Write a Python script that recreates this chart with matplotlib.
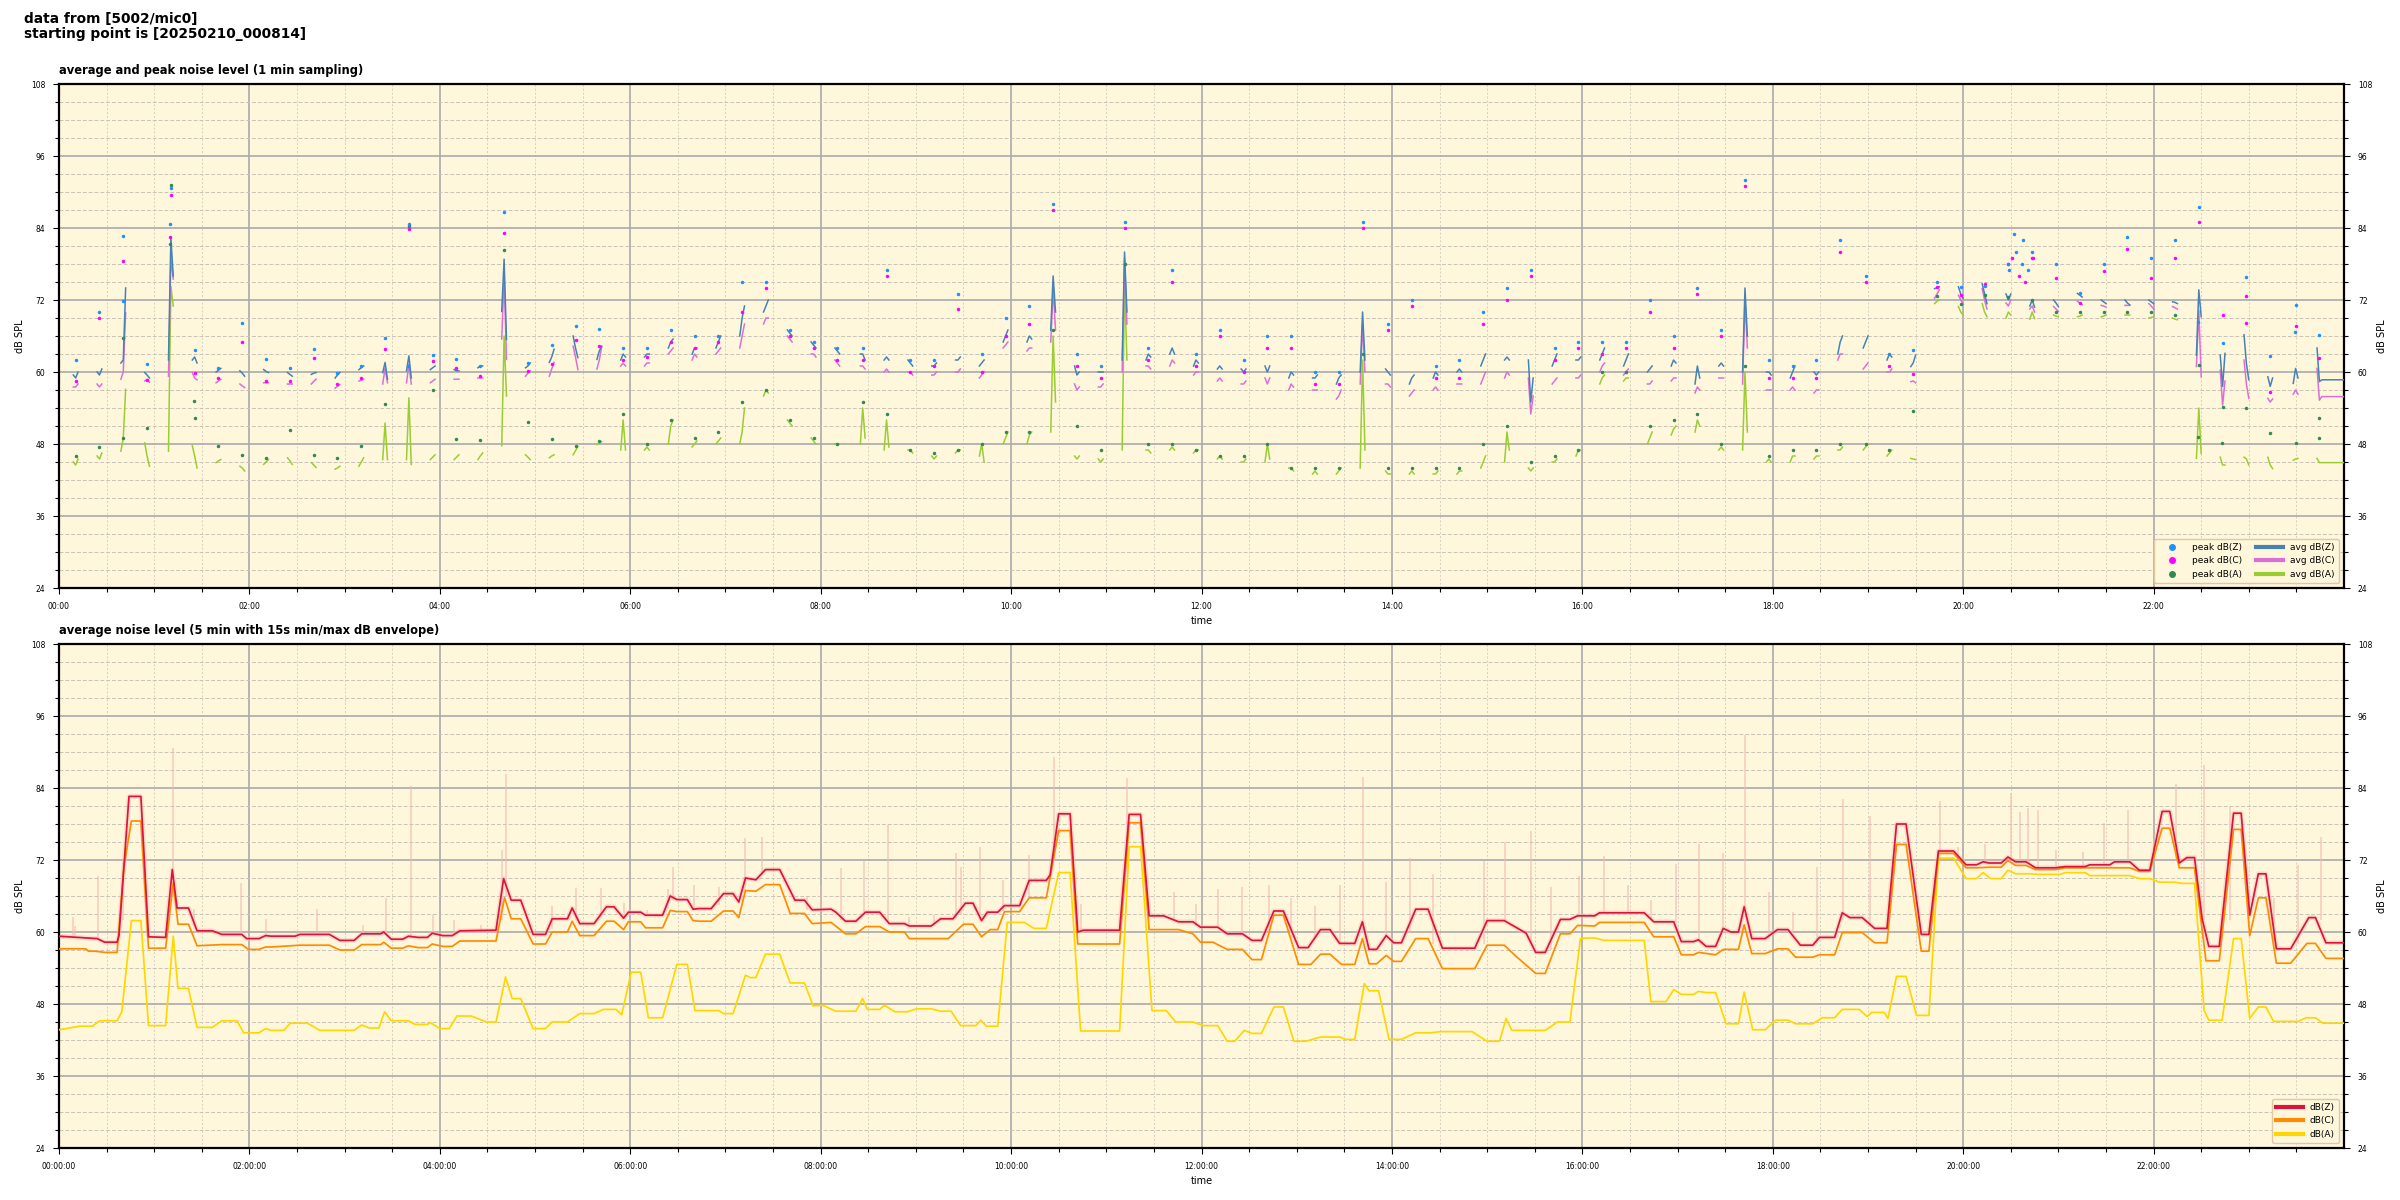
import matplotlib
matplotlib.use("Agg")
import matplotlib.pyplot as plt
import numpy as np
from matplotlib.ticker import MultipleLocator, FuncFormatter
from matplotlib.lines import Line2D

# ================= DATA =================
# --- upper chart: 1-min sampling bursts (start minute of each burst) ---
burst_t = [9, 24, 39, 54, 69, 84, 99, 114, 129, 144, 159, 174, 189, 204, 219, 234, 249, 264, 279, 294,
           309, 324, 339, 354, 369, 384, 399, 414, 429, 444, 459, 474, 489, 505, 520, 535, 550, 565, 580, 595,
           610, 625, 640, 655, 670, 685, 700, 715, 730, 745, 760, 775, 790, 805, 820, 836, 851, 866, 881, 896,
           911, 926, 941, 956, 971, 986, 1001, 1016, 1031, 1046, 1061, 1076, 1091, 1106, 1121, 1137, 1152, 1167, 1182, 1197,
           1212, 1227, 1242, 1257, 1272, 1287, 1302, 1317, 1332, 1347, 1362, 1377, 1392, 1408, 1423]
last_end = 1440  # last burst is held to the end of the day

# avg values (start, middle, end) of every burst
z_avg = [(59.5, 59, 60), (60, 59.5, 60.5), (61.5, 62, 74), (59.9, 59.5, 59), (62, 82.4, 76), (62, 62.5, 61.5),
         (60, 60.3, 60.6), (60.2, 59.8, 59.3), (60.4, 60.1, 59.9), (59.9, 59.6, 59.3), (59.6, 59.8, 59.9),
         (59, 59.5, 59.9), (60.4, 60.7, 61), (59.9, 61.6, 58.8), (60.2, 62.7, 59), (60.4, 60.7, 61),
         (60.4, 60.2, 60.2), (60.7, 61, 61), (70.1, 78.8, 65.4), (60.7, 61, 61.5), (61.6, 62.5, 63.8),
         (66, 64, 62.4), (62.1, 63.5, 64.3), (62, 63, 62.5), (62.5, 63, 63), (64, 65, 65.5), (63, 64, 64),
         (64, 65, 66), (66, 69, 71), (70, 71, 72), (67, 66.5, 66), (65, 64.5, 64), (64, 63.5, 63), (63, 63, 62),
         (62, 62.5, 62), (62, 61.5, 61), (61, 61, 61.5), (62, 62, 62.5), (61, 61.5, 62), (65, 66, 67),
         (65, 66, 65.5), (67, 76, 70), (61, 59.5, 60), (60, 60, 60), (62, 80, 70), (62, 63, 62.5), (63, 64, 63),
         (61, 62, 61.5), (60.5, 61, 60.5), (60.5, 60, 60.5), (61, 60, 61), (59, 60, 59.5), (59, 59, 59.5),
         (58, 59, 59.5), (60, 70, 62), (60.5, 60, 59.5), (58, 59, 59.5), (59, 60, 59.5), (60, 60.5, 60),
         (61, 62, 63), (62, 62.5, 62), (62, 55, 59), (61, 62, 63), (62, 62, 62.5), (62, 63, 64), (61, 62, 63),
         (60, 60.5, 61), (61, 62, 61.5), (58, 61, 59), (61, 61.5, 61), (60, 74, 66), (60, 60, 59.5), (59, 60, 61),
         (60, 59.5, 60), (63, 65, 66), (64, 65, 66), (62, 63, 62.5), (60.9, 61.5, 62.8), (73.9, 74, 74.2),
         (74.2, 73, 72.3), (74.7, 73, 71.4), (73, 72, 73), (71, 72, 70.8), (72, 71.5, 70.9), (73.1, 72.8, 72.5),
         (72, 71.7, 71.4), (72, 71.5, 71.2), (72, 71.7, 71.4), (71.7, 71.6, 71.4), (62.8, 73.7, 69.2),
         (62.8, 57.6, 63.1), (66.2, 61.4, 58.7), (59.2, 57.6, 59), (58.1, 60.6, 59), (64, 58.4, 58.7)]
c_avg = [(57.5, 57.5, 58), (58, 57.5, 58), (58.8, 60, 69.9), (58.5, 58.8, 58.3), (59.3, 78.8, 75.5), (59.9, 59, 58.7),
         (58.2, 58.5, 58.8), (58, 57.7, 57.4), (58.2, 58.2, 58.2), (58, 58, 58), (58, 58.4, 58.8),
         (57.3, 57.6, 57.9), (58.5, 58.6, 58.8), (58, 60.6, 58.2), (58.2, 61.3, 58), (58.2, 58.5, 58.8),
         (58.8, 58.8, 58.8), (59, 59, 59), (65.5, 76.2, 62.1), (59.3, 59.8, 60.2), (59.3, 60.5, 61.6),
         (64.3, 62.5, 60.4), (60.5, 62, 64.2), (61, 61.5, 61), (61, 61.5, 61.5), (63, 63.5, 64), (62, 63, 62.5),
         (63, 63.5, 64), (64, 66, 68), (68, 69, 69), (66, 65.5, 65), (63, 63, 62.5), (62, 61.5, 61), (61, 61, 60.5),
         (60, 60.5, 60), (60, 60, 59.5), (59.5, 59.5, 60), (60, 60, 60.5), (59, 59.5, 60), (64, 64.5, 65),
         (63.5, 64, 64), (65, 74, 67), (58, 57, 57.5), (57.5, 57.5, 58), (60, 79, 68), (61, 61, 60.5), (61, 62, 61.5),
         (59.5, 60, 60), (58.5, 59, 58.5), (58, 58, 58.5), (59, 58, 59), (57, 58, 57.5), (57, 57, 57),
         (55.5, 56, 57), (58, 68, 60), (58, 58, 57.5), (56, 56.5, 57), (57, 57.5, 57), (58, 58, 58),
         (58, 59, 60), (59, 60, 59.5), (59, 53, 56), (58, 58.5, 59), (59, 59, 59.5), (60, 61, 61.5), (59.5, 60, 60.5),
         (58, 58, 58.5), (58.5, 59, 59), (56.5, 57.5, 57), (59, 59, 59), (58, 72, 64), (57, 57, 57), (57, 57.5, 57),
         (56.5, 57, 57), (62, 63, 63), (60.5, 61, 61.5), (60, 60, 60.5), (58.4, 58.5, 58.2), (72.3, 73, 73.7),
         (72.8, 72, 71.3), (73.9, 72, 70.5), (71.5, 71, 72), (70.5, 71, 70), (70.9, 70.5, 70.1), (71.8, 71.5, 71.2),
         (71.1, 71, 70.8), (71.1, 71.1, 71.1), (71.4, 71, 70.5), (70.9, 70.7, 70.5), (60.9, 70.3, 59.2),
         (60.3, 54.5, 58.5), (62, 58, 55.6), (55.6, 55, 55.5), (56.3, 57, 56.3), (60.6, 55.3, 55.9)]
a_avg = [(45, 44.5, 45.5), (46, 45.5, 46.5), (46.8, 49, 57.1), (48.2, 46, 44.3), (46.8, 74.3, 71), (47.7, 46, 44),
         (44.9, 45.2, 45.4), (44.3, 44, 43.5), (44.6, 45, 45.4), (45.7, 45.2, 44.6), (44.9, 44.5, 44.1),
         (43.8, 44, 44.3), (44.3, 45, 45.7), (45.4, 51.5, 45.4), (45.4, 55.7, 44.6), (45.4, 45.8, 46.2),
         (45.4, 45.8, 46.2), (45.4, 46, 46.5), (47.7, 66, 56), (46.2, 45.8, 45.4), (45.7, 46, 46.2),
         (46.2, 46.9, 47.6), (47.9, 48.1, 48.4), (47, 52, 47), (47, 47.5, 47), (48, 51, 52), (47.5, 48, 48.5),
         (48, 48.5, 49), (48, 50, 54), (56, 57, 56.5), (52, 51.5, 51), (49, 48.5, 48), (48, 48, 48), (48, 54, 49),
         (47, 52, 47.5), (47, 47, 46.5), (46, 45.5, 46), (46.5, 47, 47), (46, 48, 45), (48, 49, 50),
         (48, 49.5, 50), (50, 66, 55), (46, 45.5, 46), (45.5, 45, 45.5), (47, 75, 62), (47, 47, 46.5), (47, 47.5, 47),
         (46.5, 47, 47), (45.5, 46, 45.5), (45, 45, 45.5), (45, 48, 45.5), (44, 44, 43.5), (43, 43.5, 43),
         (43, 43.5, 44), (44, 62, 47), (43.5, 43, 43), (43, 43.5, 43), (43, 43, 43.5), (43, 43.5, 43.5),
         (44, 45, 46), (45, 50, 47), (44, 43.5, 44), (45, 45, 45.5), (46, 47, 47), (58, 59, 59.5), (58.5, 59, 59),
         (48, 49, 50), (49.5, 50.5, 51), (50, 52, 51), (47, 47.5, 47), (47, 60, 50), (45, 45.5, 45), (45, 46, 46),
         (45.5, 46, 46), (47, 47, 47.5), (47, 47.5, 48), (46, 46.5, 47), (45.6, 45.5, 45.4), (71.4, 71.8, 72),
         (70.9, 70, 69.5), (71.4, 70, 69.2), (69, 70, 69.5), (68.8, 70, 68.9), (69.5, 69.3, 69.2), (69.2, 69.3, 69.5),
         (69.2, 69.3, 69.5), (69.5, 69.5, 69.5), (69, 69.1, 69.2), (69, 68.8, 68.7), (45.6, 54, 46.4),
         (45.8, 44.5, 44.5), (45.8, 45.5, 44.5), (45.8, 44.5, 43.9), (45.3, 45.5, 45.6), (45.6, 44.9, 44.9)]

# highest 1-min peak of every burst
z_peak = [62, 70, 82.7, 61.3, 90.7, 63.6, 60.6, 68.2, 62.2, 60.6, 63.9, 59.9, 61, 65.7, 84.6, 62.8, 62.1, 61, 86.6, 61.5,
          64.5, 67.7, 67.1, 64, 64, 67, 66, 66, 75, 75, 67, 65, 64, 64, 77, 62, 62, 73, 63, 69,
          71, 88, 63, 61, 85, 64, 77, 63, 67, 62, 66, 66, 60, 60, 85, 68, 72, 61, 62, 70,
          74, 77, 64, 65, 65, 65, 72, 66, 74, 67, 92, 62, 61, 62, 82, 76, 63, 63.7, 75, 74.2,
          74.4, 78, 80, 78, 73.1, 78, 82.5, 79, 82, 87.5, 64.8, 75.8, 62.7, 71.2, 66.2]
c_peak = [58.5, 69, 78.5, 58.7, 89.5, 59.9, 59, 65, 58.5, 58.5, 62.4, 58, 59, 63.8, 83.9, 61.8, 60.7, 59.3, 83.1, 60.2,
          61.3, 65.3, 64.3, 62, 62.5, 65, 64, 65, 70, 74, 66, 64, 62, 62, 76, 60, 61, 70.5, 60, 66,
          68, 87, 61, 59, 84, 62, 75, 61, 66, 60, 64, 64, 58, 58, 84, 67, 71, 59, 59, 68,
          72, 76, 62, 64, 63, 64, 70, 64, 73, 66, 91, 59, 59, 59, 80, 75, 61, 59.7, 74.1, 72.8,
          74.7, 78, 79, 75.6, 71.5, 76.9, 80.5, 75.6, 79, 85, 69.5, 72.7, 56.6, 67.6, 62.4]
a_peak = [46, 47.5, 49, 50.7, 91.1, 52.4, 47.7, 46.1, 45.6, 50.4, 46.1, 45.7, 47.7, 54.6, 84.3, 57, 48.9, 48.6, 80.3, 51.6,
          48.9, 47.6, 48.5, 53, 48, 52, 49, 50, 55, 57, 52, 49, 48, 55, 53, 47, 46.5, 47, 48, 50,
          50, 67, 51, 47, 78, 48, 48, 47, 46, 46, 48, 44, 44, 44, 63, 44, 44, 44, 44, 48,
          51, 45, 46, 47, 60, 60, 51, 52, 53, 48, 61, 46, 47, 47, 48, 48, 47, 53.5, 72.6, 71.4,
          72.8, 72.5, 72, 70, 70, 70, 70, 70, 69.5, 61.2, 54.2, 54, 49.8, 48.1, 52.3]

# additional notable peak dots (minute, dB, series)
extra_pk_t = [40.5, 40.5, 70, 70, 70, 85, 220, 1229, 1231, 1233, 1235, 1237, 1239, 1241, 1244, 1232, 1238,
              1348, 1348, 1363, 1378, 1409, 1424]
extra_pk_v = [71.8, 65.6, 84.7, 82.5, 81.4, 55.2, 61, 77, 79, 80, 76, 78, 75, 77, 79, 83, 82,
              68.4, 49.2, 48.1, 68.2, 66.7, 49]
extra_pk_s = ['z', 'a', 'z', 'c', 'a', 'a', 'z', 'z', 'c', 'z', 'c', 'z', 'c', 'z', 'c', 'z', 'z',
              'z', 'a', 'a', 'c', 'z', 'a']

# --- lower chart: 5-min averages (hours, dB) ---
lz_t = [0.00, 0.40, 0.48, 0.61, 0.63, 0.735, 0.86, 0.94, 1.12, 1.19, 1.24, 1.36, 1.45, 1.61, 1.71, 1.92, 1.97, 2.10,
        2.17, 2.23, 2.48, 2.53, 2.84, 2.95, 3.10, 3.18, 3.38, 3.41, 3.49, 3.61, 3.67, 3.77, 3.87, 3.92, 4.03, 4.13,
        4.21, 4.59, 4.67, 4.75, 4.85, 4.98, 5.11, 5.18, 5.34, 5.39, 5.47, 5.62, 5.75, 5.83, 5.93, 5.98, 6.11, 6.16,
        6.34, 6.42, 6.49, 6.60, 6.66, 6.72, 6.85, 6.98, 7.08, 7.14, 7.21, 7.32, 7.42, 7.57, 7.73, 7.83, 7.91, 8.11,
        8.16, 8.26, 8.37, 8.47, 8.62, 8.72, 8.88, 8.93, 9.16, 9.26, 9.39, 9.52, 9.60, 9.69, 9.75, 9.86, 9.93, 10.09,
        10.19, 10.37, 10.41, 10.50, 10.62, 10.70, 10.76, 11.14, 11.24, 11.36, 11.45, 11.60, 11.76, 11.91, 11.99, 12.17,
        12.27, 12.43, 12.53, 12.63, 12.76, 12.86, 13.02, 13.12, 13.25, 13.35, 13.45, 13.61, 13.69, 13.76, 13.84, 13.94,
        14.02, 14.10, 14.25, 14.38, 14.53, 14.87, 15.00, 15.18, 15.41, 15.51, 15.61, 15.77, 15.87, 15.95, 16.13, 16.18,
        16.65, 16.75, 16.96, 17.04, 17.17, 17.22, 17.30, 17.40, 17.48, 17.56, 17.64, 17.70, 17.78, 17.92, 18.05, 18.16,
        18.29, 18.42, 18.49, 18.65, 18.73, 18.81, 18.94, 19.07, 19.20, 19.30, 19.40, 19.56, 19.64, 19.74, 19.90, 20.03,
        20.14, 20.21, 20.27, 20.40, 20.47, 20.55, 20.66, 20.76, 20.97, 21.07, 21.28, 21.33, 21.54, 21.59, 21.75, 21.85,
        21.96, 22.09, 22.17, 22.27, 22.35, 22.43, 22.51, 22.58, 22.69, 22.84, 22.92, 23.01, 23.10, 23.18, 23.29, 23.44,
        23.63, 23.70, 23.81, 24.0]
lz_v = [59.3, 58.9, 58.3, 58.3, 59.4, 82.6, 82.6, 59.2, 59.1, 70.4, 64.0, 64.0, 60.2, 60.2, 59.6, 59.6, 58.9, 58.9,
        59.4, 59.3, 59.3, 59.6, 59.6, 58.6, 58.6, 59.7, 59.7, 60.0, 58.8, 58.8, 59.3, 59.1, 59.1, 59.8, 59.4, 59.4,
        60.2, 60.3, 68.9, 65.3, 65.3, 59.6, 59.6, 62.2, 62.2, 64.0, 61.4, 61.4, 64.2, 64.2, 62.3, 63.3, 63.3, 62.8,
        62.8, 66.0, 65.4, 65.4, 63.8, 63.9, 63.9, 66.4, 66.4, 65.0, 69.0, 68.7, 70.4, 70.4, 65.3, 65.3, 63.7, 63.8,
        63.3, 61.8, 61.8, 63.3, 63.3, 61.4, 61.4, 61.0, 61.0, 62.2, 62.2, 64.8, 64.8, 61.9, 63.3, 63.3, 64.4, 64.4,
        68.6, 68.6, 69.5, 79.7, 79.7, 60.0, 60.3, 60.3, 79.6, 79.6, 62.7, 62.7, 61.7, 61.7, 60.8, 60.8,
        59.7, 59.7, 58.6, 58.6, 63.5, 63.5, 57.4, 57.4, 60.4, 60.4, 58.1, 58.1, 61.7, 57.1, 57.1, 59.4,
        58.2, 58.2, 63.8, 63.8, 57.3, 57.3, 61.9, 61.9, 59.8, 56.6, 56.6, 62.1, 62.1, 62.7, 62.7, 63.2,
        63.2, 61.7, 61.7, 58.4, 58.4, 58.7, 57.6, 57.6, 60.6, 60.0, 60.0, 64.2, 58.9, 58.9, 60.4, 60.4,
        57.8, 57.8, 59.1, 59.1, 63.2, 62.4, 62.4, 60.6, 60.6, 78.0, 78.0, 59.6, 59.6, 73.5, 73.5, 71.2,
        71.2, 71.7, 71.5, 71.5, 72.5, 71.7, 71.7, 70.7, 70.7, 70.9, 70.9, 71.2, 71.2, 71.7, 71.7, 70.3,
        70.3, 80.1, 80.1, 71.5, 72.4, 72.4, 62.2, 57.6, 57.6, 79.8, 79.8, 62.8, 69.7, 69.7, 57.2, 57.2,
        62.4, 62.4, 58.2, 58.2]

lc_t = [0.00, 0.28, 0.31, 0.38, 0.48, 0.61, 0.68, 0.76, 0.86, 0.94, 1.12, 1.20, 1.25, 1.36, 1.45, 1.71, 1.92, 1.99,
        2.10, 2.17, 2.23, 2.53, 2.84, 2.95, 3.10, 3.18, 3.38, 3.41, 3.49, 3.61, 3.67, 3.77, 3.87, 3.92, 4.03, 4.13,
        4.21, 4.59, 4.68, 4.75, 4.85, 4.98, 5.11, 5.18, 5.34, 5.39, 5.47, 5.62, 5.75, 5.83, 5.93, 5.98, 6.11, 6.16,
        6.34, 6.42, 6.49, 6.60, 6.66, 6.72, 6.85, 6.98, 7.08, 7.14, 7.21, 7.32, 7.42, 7.57, 7.68, 7.83, 7.91, 8.11,
        8.26, 8.37, 8.47, 8.62, 8.72, 8.88, 8.93, 9.34, 9.50, 9.60, 9.69, 9.78, 9.86, 9.93, 10.09, 10.19, 10.37, 10.50,
        10.62, 10.70, 11.14, 11.24, 11.36, 11.45, 11.76, 11.91, 11.99, 12.12, 12.27, 12.43, 12.53, 12.63, 12.76, 12.86,
        13.02, 13.15, 13.25, 13.35, 13.47, 13.61, 13.69, 13.76, 13.84, 13.94, 14.02, 14.10, 14.25, 14.38, 14.53, 14.87,
        15.00, 15.18, 15.30, 15.51, 15.61, 15.77, 15.87, 15.95, 16.13, 16.18, 16.65, 16.75, 16.96, 17.04, 17.17, 17.22,
        17.40, 17.48, 17.64, 17.70, 17.78, 17.92, 18.05, 18.16, 18.24, 18.42, 18.49, 18.65, 18.73, 18.94, 19.07, 19.20,
        19.30, 19.40, 19.56, 19.64, 19.74, 19.90, 20.03, 20.14, 20.27, 20.40, 20.47, 20.55, 20.66, 20.76, 20.97, 21.07,
        21.75, 21.85, 21.96, 22.09, 22.17, 22.27, 22.43, 22.55, 22.69, 22.84, 22.92, 23.01, 23.10, 23.18, 23.29, 23.44,
        23.61, 23.70, 23.81, 24.0]
lc_v = [57.2, 57.2, 56.8, 56.8, 56.6, 56.6, 70.6, 78.5, 78.5, 57.3, 57.3, 68.2, 61.3, 61.3, 57.7, 57.9, 57.9, 57.1,
        57.1, 57.5, 57.5, 57.8, 57.8, 57.0, 57.0, 57.9, 57.9, 58.3, 57.3, 57.3, 57.7, 57.4, 57.4, 58.0, 57.6, 57.6,
        58.5, 58.5, 65.7, 62.2, 62.2, 58.0, 58.0, 60.0, 60.0, 61.8, 59.4, 59.4, 61.8, 61.8, 60.4, 61.7, 61.7, 60.7,
        60.7, 63.6, 63.4, 63.4, 61.9, 61.8, 61.8, 63.5, 63.5, 62.4, 66.9, 66.8, 67.9, 67.9, 63.1, 63.1, 61.4, 61.6,
        59.7, 59.7, 60.9, 60.9, 60.0, 60.0, 58.9, 58.9, 61.3, 61.3, 59.2, 60.4, 60.4, 63.4, 63.4, 65.7, 65.7, 76.9,
        76.9, 58.0, 58.0, 78.2, 78.2, 60.4, 60.4, 59.7, 58.3, 58.3, 57.1, 57.1, 55.4, 55.4, 62.8, 62.8,
        54.6, 54.6, 56.3, 56.3, 54.6, 54.6, 58.9, 54.7, 54.7, 56.1, 55.1, 55.1, 58.9, 58.9, 53.9, 53.9,
        57.8, 57.8, 56.0, 53.1, 53.1, 59.7, 59.7, 61.1, 61.0, 61.6, 61.6, 59.2, 59.2, 56.2, 56.2, 56.6,
        56.2, 57.1, 57.1, 61.2, 56.4, 56.4, 57.2, 57.2, 55.8, 55.8, 56.2, 56.2, 59.9, 59.9, 58.2, 58.2,
        74.6, 74.6, 56.8, 56.8, 73.1, 73.1, 70.7, 70.7, 70.8, 70.8, 71.9, 71.1, 71.1, 70.4, 70.4, 70.7,
        70.7, 70.1, 70.1, 77.3, 77.3, 70.7, 70.7, 55.2, 55.2, 77.1, 77.1, 59.4, 65.7, 65.7, 54.8, 54.8,
        58.1, 58.1, 55.6, 55.6]

la_t = [0.00, 0.22, 0.35, 0.43, 0.61, 0.66, 0.76, 0.86, 0.94, 1.12, 1.20, 1.25, 1.36, 1.45, 1.61, 1.71, 1.87, 1.94,
        2.10, 2.17, 2.23, 2.36, 2.43, 2.61, 2.74, 3.10, 3.18, 3.26, 3.36, 3.42, 3.49, 3.67, 3.74, 3.87, 3.90, 4.00,
        4.10, 4.18, 4.33, 4.49, 4.59, 4.69, 4.76, 4.85, 4.98, 5.11, 5.18, 5.34, 5.47, 5.62, 5.72, 5.85, 5.91, 6.01,
        6.11, 6.19, 6.34, 6.49, 6.60, 6.68, 6.93, 6.98, 7.08, 7.21, 7.26, 7.32, 7.42, 7.57, 7.68, 7.83, 7.92, 8.02,
        8.16, 8.37, 8.44, 8.49, 8.62, 8.67, 8.78, 8.91, 9.01, 9.16, 9.26, 9.37, 9.47, 9.63, 9.68, 9.74, 9.86, 9.96,
        10.14, 10.24, 10.37, 10.50, 10.62, 10.73, 11.14, 11.24, 11.36, 11.48, 11.63, 11.73, 11.91, 12.02, 12.17, 12.27,
        12.35, 12.45, 12.53, 12.63, 12.76, 12.86, 12.97, 13.10, 13.25, 13.45, 13.51, 13.61, 13.71, 13.76, 13.86, 13.97,
        14.10, 14.25, 14.41, 14.51, 14.84, 15.00, 15.13, 15.20, 15.26, 15.61, 15.74, 15.87, 15.98, 16.05, 16.13, 16.23,
        16.65, 16.72, 16.88, 16.96, 17.04, 17.17, 17.22, 17.30, 17.40, 17.51, 17.64, 17.70, 17.79, 17.92, 18.03, 18.16,
        18.24, 18.42, 18.52, 18.65, 18.73, 18.91, 18.99, 19.04, 19.17, 19.21, 19.30, 19.40, 19.51, 19.64, 19.74, 19.90,
        20.03, 20.14, 20.21, 20.29, 20.40, 20.47, 20.55, 20.71, 20.79, 21.02, 21.07, 21.28, 21.33, 21.75, 21.85, 21.96,
        22.06, 22.22, 22.30, 22.43, 22.53, 22.58, 22.72, 22.84, 22.92, 23.01, 23.10, 23.18, 23.26, 23.52, 23.60, 23.70,
        23.78, 24.0]
la_v = [43.7, 44.3, 44.3, 45.2, 45.2, 46.7, 61.9, 61.9, 44.4, 44.4, 59.3, 50.6, 50.6, 44.1, 44.1, 45.2, 45.2, 43.2,
        43.2, 43.9, 43.6, 43.6, 44.8, 44.8, 43.6, 43.6, 44.5, 44.0, 44.0, 46.7, 45.2, 45.2, 44.6, 44.6, 44.9, 43.9,
        43.9, 46.0, 46.0, 45.0, 45.0, 52.5, 48.9, 48.9, 43.9, 43.9, 45.0, 45.0, 46.4, 46.4, 47.1, 47.1, 46.2, 53.3,
        53.3, 45.7, 45.7, 54.6, 54.6, 46.9, 46.9, 46.4, 46.4, 52.8, 52.4, 52.4, 56.3, 56.3, 51.5, 51.5, 47.7, 47.8,
        46.8, 46.8, 48.9, 47.1, 47.1, 47.8, 46.7, 46.7, 47.2, 47.2, 46.8, 46.8, 44.4, 44.4, 45.3, 44.3, 44.3, 61.6,
        61.6, 60.6, 60.6, 69.9, 69.9, 43.5, 43.5, 74.2, 74.2, 46.9, 46.9, 45.0, 45.0, 44.4, 44.4, 41.8,
        41.8, 43.6, 43.1, 43.1, 47.5, 47.5, 41.8, 41.8, 42.5, 42.5, 42.1, 42.1, 51.4, 50.2, 50.2, 42.1,
        42.1, 43.2, 43.2, 43.4, 43.4, 41.8, 41.8, 45.6, 43.6, 43.6, 45.0, 45.0, 58.9, 59.0, 59.0, 58.6,
        58.6, 48.4, 48.4, 50.4, 49.6, 49.6, 50.1, 49.9, 49.9, 44.7, 44.7, 50.0, 43.7, 43.7, 45.3, 45.3,
        44.7, 44.7, 45.7, 45.7, 47.1, 47.1, 45.9, 46.6, 46.6, 45.6, 52.6, 52.6, 46.1, 46.1, 72.3, 72.3,
        68.9, 68.9, 69.9, 68.9, 68.9, 70.3, 69.7, 69.7, 69.6, 69.6, 69.9, 69.9, 69.4, 69.4, 68.9, 68.9,
        68.3, 68.3, 68.1, 68.1, 47.0, 45.3, 45.3, 58.9, 58.9, 45.6, 47.5, 47.5, 45.1, 45.1, 45.7, 45.7,
        44.8, 44.8]

# 15 s min/max envelope spikes of dB(Z): (hours, low, high)
env_t = [0.15, 0.17, 0.41, 0.67, 1.20, 1.42, 1.91, 2.17, 2.71, 3.19, 3.43, 3.70, 3.93, 4.15, 4.43, 4.65, 4.69, 5.18,
         5.43, 5.69, 5.93, 6.18, 6.40, 6.45, 6.67, 6.93, 7.20, 7.38, 7.86, 8.00, 8.21, 8.45, 8.71, 8.93, 9.19, 9.42,
         9.47, 9.67, 9.91, 10.19, 10.45, 10.73, 11.22, 11.71, 11.94, 12.17, 12.43, 12.71, 12.94, 13.19, 13.45, 13.70,
         13.94, 14.19, 14.43, 14.97, 15.19, 15.46, 15.67, 15.97, 16.23, 16.48, 16.72, 16.98, 17.23, 17.48, 17.71, 17.96,
         18.21, 18.46, 18.74, 19.02, 19.76, 19.95, 20.23, 20.50, 20.60, 20.68, 20.79, 20.97, 21.26, 21.48, 21.73, 22.24,
         22.53, 22.80, 23.26, 23.52, 23.76]
env_lo = [59.3, 59.3, 58.9, 62, 66, 61, 59.6, 59.4, 59.6, 59.7, 59.5, 59, 59.8, 59.4, 60.3, 62, 66, 60.5,
          62, 62.5, 62.3, 62.8, 64, 65.4, 63.8, 64.5, 67, 69.5, 63.7, 63.8, 62, 63.3, 61.8, 61, 61, 62.2,
          63, 62, 63.5, 66, 72, 60.3, 70, 62, 61, 60.8, 59.7, 60, 60, 59, 58.1, 60,
          59.4, 60, 58, 58, 61.9, 58, 57, 62.7, 63.2, 63.2, 62, 61.7, 58.7, 60.6, 64, 58.9,
          60, 58, 62, 61, 73, 72, 71.5, 72, 71.7, 71.7, 70.7, 70.7, 70.9, 71.2, 71.7, 72,
          62, 62, 57.2, 58, 62]
env_hi = [62.5, 61, 69.3, 71.7, 90.6, 63.9, 68.2, 62.2, 63.9, 61.1, 65.7, 84.4, 62.8, 62, 61.1, 73.6, 86.4, 64.4,
          67.3, 67.3, 64.9, 63.6, 67.2, 70.8, 67.8, 67.5, 75.6, 75.8, 66, 67.8, 70.6, 71.9, 77.9, 62.5, 62.8, 73.1,
          70.8, 74.2, 68.6, 72.8, 89.2, 64.7, 85.7, 66.7, 64.7, 67.2, 67.5, 67.8, 65.6, 64.4, 67.8, 85.8,
          68.3, 72.3, 69.7, 71.9, 75, 76.9, 67.5, 69.4, 72.7, 67.8, 65.3, 71.4, 74.7, 73.1, 92.9, 66.7,
          63.3, 70.8, 82.1, 79.4, 81.9, 74.2, 74.7, 83.2, 80, 80.6, 80.3, 73.6, 73.3, 78.1, 80.3, 84.7,
          87.8, 80.8, 65.6, 71.1, 75.8]

# ================= STYLE =================
BG = '#fff7dc'
YMIN, YMAX = 24, 108
plt.rcParams['font.family'] = ['DejaVu Sans']


def hm(m, _):
    return f"{int(m // 60):02d}:{int(m % 60):02d}"


def hms(m, _):
    return f"{int(m // 60):02d}:{int(m % 60):02d}:00"


def style_axes(ax, fmt):
    ax.set_facecolor(BG)
    ax.set_xlim(0, 1440)
    ax.set_ylim(YMIN, YMAX)
    ax.set_xticks(np.arange(0, 1440, 120))
    ax.set_xticks(np.arange(30, 1440, 30), minor=True)
    ax.xaxis.set_major_formatter(FuncFormatter(fmt))
    ax.yaxis.set_major_locator(MultipleLocator(12))
    ax.yaxis.set_minor_locator(MultipleLocator(3))
    ax.grid(which='major', axis='both', color='#aaaaaa', lw=1.2, ls='-')
    ax.grid(which='minor', axis='y', color='#c9c3b6', lw=0.7, ls=(0, (4, 2)))
    ax.grid(which='minor', axis='x', color='#d6cfbf', lw=0.7, ls=(0, (2, 2)))
    ax.set_axisbelow(True)
    ax.tick_params(axis='both', which='major', labelsize=5.5, length=4, width=0.8, pad=6)
    ax.tick_params(axis='both', which='minor', length=3, width=0.8)
    ax.tick_params(axis='y', which='both', right=True, labelright=True)
    for s in ax.spines.values():
        s.set_linewidth(1.6)
    ax.set_xlabel('time', fontsize=7)
    ax.set_ylabel('dB SPL', fontsize=7)
    ax.text(1.0145, 0.5, 'dB SPL', transform=ax.transAxes, rotation=90, va='center', ha='left', fontsize=7)


fig = plt.figure(figsize=(24, 12), dpi=100)
ax1 = fig.add_axes([59 / 2400, 1 - 588 / 1200, 2285 / 2400, 504 / 1200])
ax2 = fig.add_axes([59 / 2400, 1 - 1148 / 1200, 2285 / 2400, 504 / 1200])
style_axes(ax1, hm)
style_axes(ax2, hms)

fig.text(24 / 2400, 1 - 12 / 1200, 'data from [5002/mic0]\nstarting point is [20250210_000814]',
         fontsize=9.9, fontweight='bold', va='top', ha='left', linespacing=1.05)
ax1.set_title('average and peak noise level (1 min sampling)', loc='left', fontsize=8.3, fontweight='bold', pad=7)
ax2.set_title('average noise level (5 min with 15s min/max dB envelope)', loc='left', fontsize=8.3,
              fontweight='bold', pad=7)

# ---------- upper chart ----------
def burst_series(avg):
    xs, ys = [], []
    for k, t0 in enumerate(burst_t):
        v = avg[k]
        xs += [t0, t0 + 1.5, t0 + 3]
        ys += [v[0], v[1], v[2]]
        if k == len(burst_t) - 1:
            xs.append(last_end)
            ys.append(v[2])
        xs.append(np.nan)
        ys.append(np.nan)
    return np.array(xs), np.array(ys)


for avg, col in [(a_avg, '#9acd32'), (c_avg, '#da70d6'), (z_avg, '#4682b4')]:
    x, y = burst_series(avg)
    ax1.plot(x, y, color=col, lw=1.1, zorder=3)

pk_x = np.array(burst_t) + 1.5
ax1.plot(pk_x, a_peak, ls='none', marker='.', ms=3, color='#2e8b57', zorder=4)
ax1.plot(pk_x, c_peak, ls='none', marker='.', ms=3, color='#ff00ff', zorder=4)
ax1.plot(pk_x, z_peak, ls='none', marker='.', ms=3, color='#1e90ff', zorder=4)
pk_col = {'z': '#1e90ff', 'c': '#ff00ff', 'a': '#2e8b57'}
for t, v, s in zip(extra_pk_t, extra_pk_v, extra_pk_s):
    ax1.plot([t], [v], ls='none', marker='.', ms=3, color=pk_col[s], zorder=4)

h1 = [Line2D([], [], ls='none', marker='o', ms=4, color='#1e90ff', label='peak dB(Z)'),
      Line2D([], [], ls='none', marker='o', ms=4, color='#ff00ff', label='peak dB(C)'),
      Line2D([], [], ls='none', marker='o', ms=4, color='#2e8b57', label='peak dB(A)'),
      Line2D([], [], color='#4682b4', lw=3, label='avg dB(Z)'),
      Line2D([], [], color='#da70d6', lw=3, label='avg dB(C)'),
      Line2D([], [], color='#9acd32', lw=3, label='avg dB(A)')]
ax1.legend(handles=h1, loc='lower right', ncol=2, fontsize=6.5, facecolor=BG, edgecolor='#e0c8a0',
           framealpha=1, handlelength=3, columnspacing=1.5, borderaxespad=0.6)

# ---------- lower chart ----------
ax2.vlines(np.array(env_t) * 60, env_lo, env_hi, color='#f2b8b0', lw=1.3, alpha=0.6, zorder=2)
ax2.plot(np.array(lz_t) * 60, lz_v, color='#f4c0b8', lw=3.5, alpha=0.45, zorder=2)
ax2.plot(np.array(la_t) * 60, la_v, color='#ffd700', lw=1.25, zorder=3, label='dB(A)')
ax2.plot(np.array(lc_t) * 60, lc_v, color='#ff8c00', lw=1.25, zorder=3, label='dB(C)')
ax2.plot(np.array(lz_t) * 60, lz_v, color='#dc143c', lw=1.25, zorder=4, label='dB(Z)')
h2 = [Line2D([], [], color='#dc143c', lw=3, label='dB(Z)'),
      Line2D([], [], color='#ff8c00', lw=3, label='dB(C)'),
      Line2D([], [], color='#ffd700', lw=3, label='dB(A)')]
ax2.legend(handles=h2, loc='lower right', fontsize=6.5, facecolor=BG, edgecolor='#e0c8a0', framealpha=1,
           handlelength=3, borderaxespad=0.6)

fig.savefig('out.png', dpi=100, facecolor='white')
